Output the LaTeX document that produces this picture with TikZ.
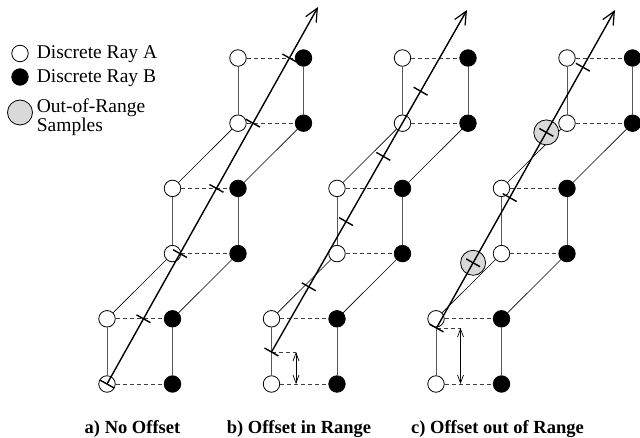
\documentclass[tikz,border=0pt]{standalone}
\usepackage{fontspec}
\setmainfont{Liberation Serif}
\usetikzlibrary{arrows.meta,calc}
\tikzset{
 wcirc/.style={circle,draw,fill=white,line width=0.8pt,minimum size=16.5pt,inner sep=0pt},
 bcirc/.style={circle,draw,fill=black,line width=0.8pt,minimum size=16.5pt,inner sep=0pt},
 gcirc/.style={circle,draw,fill=black!15,line width=0.8pt,minimum size=25pt,inner sep=0pt},
 hdash/.style={draw=black!75,line width=0.8pt,dash pattern=on 4pt off 3pt},
 vline/.style={draw=black!65,line width=0.9pt},
 dline/.style={draw=black,line width=0.6pt},
 ray/.style={draw,line width=1.4pt,-{Straight Barb[length=13pt,width=12pt,line width=1.2pt]}},
 tickm/.style={draw,line width=1.4pt},
 dimarrow/.style={draw,line width=0.7pt,{Straight Barb[length=8pt,width=6pt]}-{Straight Barb[length=8pt,width=6pt]}},
 legend/.style={font=\fontsize{19.5}{20}\selectfont,anchor=base west,inner sep=0pt},
 legend2/.style={font=\fontsize{19.5}{16}\selectfont,anchor=north west,inner sep=0pt,align=left},
 caption/.style={font=\bfseries\fontsize{18.5}{20}\selectfont,anchor=base,inner sep=0pt},
}
\begin{document}
\begin{tikzpicture}[x=1pt,y=-1pt]
\useasboundingbox (0,0) rectangle (640,438);
% grids
\foreach \p/\ox in {a/0,b/164.5,c/329}{
  \foreach \i/\ca/\y in {0/0/384,1/0/318.8,2/1/253.6,3/1/188.4,4/2/123.2,5/2/58}{
    \node[wcirc] (\p A\i) at ({107+\ox+65.5*\ca},\y) {};
    \node[bcirc] (\p B\i) at ({107+\ox+65.5*(\ca+1)},\y) {};
    \draw[hdash] (\p A\i) -- (\p B\i);
  }
  \foreach \i/\j in {0/1,2/3,4/5}{
    \draw[vline] (\p A\i) -- (\p A\j);
    \draw[vline] (\p B\i) -- (\p B\j);
  }
  \foreach \i/\j in {1/2,3/4}{
    \draw[dline] (\p A\i) -- (\p A\j);
    \draw[dline] (\p B\i) -- (\p B\j);
  }
}
% offset markers
\coordinate (bS) at (271.5,352);
\coordinate (bD1) at (296,352);
\coordinate (bD0) at (296,384);
\draw[hdash] (bS) -- (bD1);
\draw[dimarrow] (bD1) -- (bD0);
\coordinate (cS) at (436.5,328);
\coordinate (cD1) at (460.5,328);
\coordinate (cD0) at (460.5,384);
\draw[hdash] (cS) -- (cD1);
\draw[dimarrow] (cD1) -- (cD0);
% out of range samples
\coordinate (aS) at (107,384);
\coordinate (aT) at (318,7);
\coordinate (bT) at (467,10);
\coordinate (cT) at (615,10);
\node[gcirc] (cG1) at ($(cS)!0.20503!(cT)$) {};
\node[gcirc] (cG3) at ($(cS)!0.61509!(cT)$) {};
% rays
\draw[ray] (aS) -- (aT);
\draw[ray] (bS) -- (bT);
\draw[ray] (cS) -- (cT);
\foreach \k in {0,...,5}{
  \coordinate (aP) at ($(aS)!{\k*0.17294}!(aT)$);
  \draw[tickm] ($(aP)!8pt!90:(aT)$) -- ($(aP)!8pt!-90:(aT)$);
}
\foreach \k in {0,...,4}{
  \coordinate (bP) at ($(bS)!{\k*0.19064}!(bT)$);
  \draw[tickm] ($(bP)!8pt!90:(bT)$) -- ($(bP)!8pt!-90:(bT)$);
  \coordinate (cP) at ($(cS)!{\k*0.20503}!(cT)$);
  \draw[tickm] ($(cP)!8pt!90:(cT)$) -- ($(cP)!8pt!-90:(cT)$);
}
% legend
\node[wcirc] (lA) at (20,53.5) {};
\node[bcirc] (lB) at (20,77) {};
\node[gcirc] (lG) at (20,112.5) {};
\node[legend] (tA) at (36.7,59) {Discrete Ray A};
\node[legend] (tB) at (36.7,83) {Discrete Ray B};
\node[legend2] (tG) at (36.7,98.5) {Out-of-Range\\Samples};
% captions
\node[caption] (capA) at (132.5,433) {a) No Offset};
\node[caption] (capB) at (299,433) {b) Offset in Range};
\node[caption] (capC) at (497.5,433) {c) Offset out of Range};
\end{tikzpicture}
\end{document}
